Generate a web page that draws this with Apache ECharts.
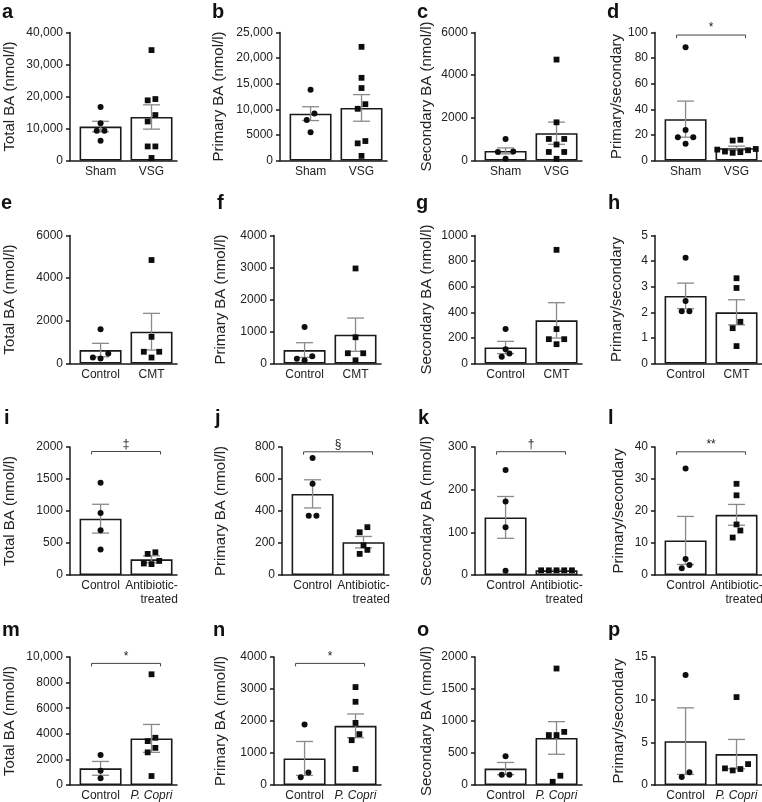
<!DOCTYPE html>
<html><head><meta charset="utf-8">
<script src="https://cdn.jsdelivr.net/npm/echarts@6/dist/echarts.min.js"></script>
<style>html,body{margin:0;padding:0;background:#fff}#chart{width:762px;height:802px}</style>
</head><body><div id="chart"></div>
<script>
// ---------------- DATA ----------------
const panelLetters = ['a','b','c','d','e','f','g','h','i','j','k','l','m','n','o','p'];
const yTitles = ['Total BA (nmol/l)', 'Primary BA (nmol/l)', 'Secondary BA (nmol/l)', 'Primary/secondary'];
const rowGroups = [['Sham', 'VSG'], ['Control', 'CMT'], ['Control', 'Antibiotic-treated'], ['Control', 'P. Copri']];
const yMax  = [40000, 25000, 6000, 100, 6000, 4000, 1000, 5, 2000, 800, 300, 40, 10000, 4000, 2000, 15];
const yStep = [10000, 5000, 2000, 20, 2000, 1000, 200, 1, 500, 200, 100, 10, 2000, 1000, 500, 5];

const a_mean = [10600, 13600], a_sem = [1650, 3800];
const a_g1 = [16700, 11650, 9300, 9300, 6200];
const a_g2 = [34500, 19200, 18800, 14200, 12200, 4400, 4400, 800];
const b_mean = [9150, 10270], b_sem = [1350, 2600];
const b_g1 = [13800, 9200, 7900, 5500];
const b_g2 = [22200, 16150, 14150, 11000, 10100, 3800, 3350, 900];
const c_mean = [450, 1280], c_sem = [140, 520];
const c_g1 = [1010, 420, 400, 80];
const c_g2 = [4730, 1790, 1010, 1010, 750, 400, 400, 80];
const d_mean = [32.3, 9.6], d_sem = [14.1, 1.6];
const d_g1 = [88.4, 23.8, 18.1, 18.1, 13];
const d_g2 = [16.2, 15.6, 9, 8.5, 8, 7, 6.5, 6];

const e_mean = [630, 1490], e_sem = [315, 860];
const e_g1 = [1600, 470, 280, 230];
const e_g2 = [4850, 1250, 550, 550, 280];
const f_mean = [420, 900], f_sem = [230, 520];
const f_g1 = [1140, 230, 150, 100];
const f_g2 = [2970, 820, 320, 320, 100];
const g_mean = [125, 337], g_sem = [48, 138];
const g_g1 = [269, 112, 78, 52];
const g_g2 = [888, 269, 190, 190, 151];
const h_mean = [2.64, 2.0], h_sem = [0.5, 0.49];
const h_g1 = [4.13, 2.44, 2.04, 2.04];
const h_g2 = [3.33, 2.95, 1.63, 1.38, 0.68];

const i_mean = [880, 245], i_sem = [225, 55];
const i_g1 = [1440, 970, 700, 400];
const i_g2 = [355, 330, 220, 180, 170];
const j_mean = [507, 205], j_sem = [88, 36];
const j_g1 = [731, 570, 370, 370];
const j_g2 = [299, 267, 186, 157, 132];
const k_mean = [135, 11], k_sem = [49, 0.3];
const k_g1 = [246, 172, 112, 10];
const k_g2 = [11, 11, 11, 11, 11];
const l_mean = [10.8, 18.8], l_sem = [7.5, 3.25];
const l_g1 = [33.3, 5.0, 3.1, 2.1];
const l_g2 = [28.5, 24.9, 15.8, 13.9, 11.7];

const m_mean = [1300, 3640], m_sem = [540, 1090];
const m_g1 = [2340, 1120, 520];
const m_g2 = [8650, 3690, 3430, 2900, 2550, 700];
const n_mean = [830, 1850], n_sem = [530, 370];
const n_g1 = [1890, 390, 240];
const n_g2 = [3060, 2600, 1940, 1590, 1400, 500];
const o_mean = [257, 735], o_sem = [95, 255];
const o_g1 = [450, 160, 160];
const o_g2 = [1820, 830, 780, 780, 145, 50];
const p_mean = [5.14, 3.62], p_sem = [3.9, 1.72];
const p_g1 = [12.9, 1.48, 0.93];
const p_g2 = [10.3, 2.45, 1.95, 1.87, 1.71];

const sigLabel  = ['', '', '', '*', '', '', '', '', '\u2021', '\u00a7', '\u2020', '**', '*', '*', '', ''];
const sigHeight = [0, 0, 0, 98, 0, 0, 0, 0, 1930, 770, 289, 38.5, 9500, 3800, 0, 0];

// ---------------- LAYOUT ----------------
const means = [a_mean,b_mean,c_mean,d_mean,e_mean,f_mean,g_mean,h_mean,i_mean,j_mean,k_mean,l_mean,m_mean,n_mean,o_mean,p_mean];
const sems  = [a_sem,b_sem,c_sem,d_sem,e_sem,f_sem,g_sem,h_sem,i_sem,j_sem,k_sem,l_sem,m_sem,n_sem,o_sem,p_sem];
const grp1  = [a_g1,b_g1,c_g1,d_g1,e_g1,f_g1,g_g1,h_g1,i_g1,j_g1,k_g1,l_g1,m_g1,n_g1,o_g1,p_g1];
const grp2  = [a_g2,b_g2,c_g2,d_g2,e_g2,f_g2,g_g2,h_g2,i_g2,j_g2,k_g2,l_g2,m_g2,n_g2,o_g2,p_g2];

const FONT = 'Liberation Sans, Arial, Helvetica, sans-serif';
const axisX0 = [70, 280, 475, 655, 70, 274, 475, 655, 70, 282, 475, 655, 70, 274, 475, 655];
const rowTop = [32.5, 235.5, 447, 657];
const PLOT_H = 128, PLOT_W = 107;
const nameGaps = [53, 54, 41, 31, 53, 46, 41, 31, 53, 54, 41, 29, 53, 46, 41, 29];
const letterLeft = [2, 212, 417, 607, 1, 217, 416, 608, 4, 215, 418, 608, 2, 213, 417, 608];
const letterTop = [2, 193, 408, 620];
const STEP = 7.7, ROW_PX = 7.5;

function slotsFor(values, maxV) {
  const idx = values.map((v, i) => i).sort((x, y) => values[x] - values[y]);
  const slots = new Array(values.length).fill(0);
  let k = 0;
  while (k < idx.length) {
    const startPx = values[idx[k]] / maxV * PLOT_H;
    const row = [idx[k]];
    let q = k + 1;
    while (q < idx.length && values[idx[q]] / maxV * PLOT_H - startPx <= ROW_PX) { row.push(idx[q]); q++; }
    const n = row.length;
    const order = [];
    if (n % 2 === 1) { order.push(0); for (let s = 1; order.length < n; s++) { order.push(-s); order.push(s); } }
    else { for (let s = 0.5; order.length < n; s += 1) { order.push(-s); order.push(s); } }
    row.forEach((id, t) => { slots[id] = order[t]; });
    k = q;
  }
  return slots;
}

function fmtY(v) {
  if (v >= 10000) return v.toLocaleString('en-US');
  return String(v);
}

const grids = [], xAxes = [], yAxes = [], series = [], titles = [];
for (let p = 0; p < 16; p++) {
  const r = Math.floor(p / 4), c = p % 4;
  grids.push({ left: axisX0[p], top: rowTop[r], width: PLOT_W, height: PLOT_H, containLabel: false, outerBoundsMode: 'none' });
  const names = rowGroups[r];
  xAxes.push({
    gridIndex: p, type: 'value', min: 0.4, max: 2.5,
    axisLine: { show: true, onZero: false, lineStyle: { color: '#1a1a1a', width: 1.5 } },
    axisTick: { show: false }, splitLine: { show: false },
    axisLabel: {
      customValues: [1, 2], margin: 4, fontSize: 12, color: '#222', fontFamily: FONT, lineHeight: 14,
      formatter: function (v) {
        if (v === 1) return names[0];
        if (v === 2) {
          if (r === 2) return '{a|Antibiotic-}\n{ra|treated}';
          if (r === 3) return '{it|' + names[1] + '}';
          return names[1];
        }
        return '';
      },
      rich: {
        a: { fontSize: 12, lineHeight: 14, color: '#222', fontFamily: FONT },
        ra: { fontSize: 12, lineHeight: 14, color: '#222', fontFamily: FONT, align: 'right' },
        it: { fontSize: 12, color: '#222', fontFamily: FONT, fontStyle: 'italic' }
      }
    }
  });
  yAxes.push({
    gridIndex: p, type: 'value', min: 0, max: yMax[p], interval: yStep[p],
    axisLine: { show: true, lineStyle: { color: '#1a1a1a', width: 1.5 } },
    axisTick: { show: true, length: 4, lineStyle: { color: '#1a1a1a', width: 1.5 } },
    splitLine: { show: false },
    axisLabel: { fontSize: 12, color: '#222', margin: 7, fontFamily: FONT, formatter: fmtY },
    name: yTitles[c], nameLocation: 'middle', nameGap: nameGaps[p],
    nameTextStyle: { fontSize: 15, color: '#222', fontFamily: FONT }
  });
  titles.push({ text: panelLetters[p], left: letterLeft[p], top: letterTop[r], padding: 0,
    textStyle: { fontSize: 20, fontWeight: 'bold', color: '#111', fontFamily: FONT } });

  series.push({
    type: 'bar', xAxisIndex: p, yAxisIndex: p, barWidth: 42, silent: true, z: 2,
    itemStyle: { color: '#ffffff', borderColor: '#1a1a1a', borderWidth: 1.6 },
    data: [[1, means[p][0]], [2, means[p][1]]]
  });
  series.push({
    type: 'custom', xAxisIndex: p, yAxisIndex: p, silent: true, z: 3,
    encode: { x: 0, y: 1 },
    data: [[1, means[p][0], sems[p][0]], [2, means[p][1], sems[p][1]]],
    renderItem: function (params, api) {
      const x = api.value(0), m = api.value(1), s = api.value(2);
      const t = api.coord([x, m + s]), b = api.coord([x, Math.max(0, m - s)]);
      const cap = 8.5, st = { stroke: '#8a8a8a', lineWidth: 1.3 };
      return { type: 'group', children: [
        { type: 'line', shape: { x1: t[0], y1: t[1], x2: b[0], y2: b[1] }, style: st },
        { type: 'line', shape: { x1: t[0] - cap, y1: t[1], x2: t[0] + cap, y2: t[1] }, style: st },
        { type: 'line', shape: { x1: b[0] - cap, y1: b[1], x2: b[0] + cap, y2: b[1] }, style: st }
      ] };
    }
  });
  const pts = [];
  const s1 = slotsFor(grp1[p], yMax[p]), s2 = slotsFor(grp2[p], yMax[p]);
  grp1[p].forEach((v, i) => pts.push([1, v, s1[i], 0]));
  grp2[p].forEach((v, i) => pts.push([2, v, s2[i], 1]));
  series.push({
    type: 'custom', xAxisIndex: p, yAxisIndex: p, silent: true, z: 4,
    encode: { x: 0, y: 1 }, data: pts,
    renderItem: function (params, api) {
      const pt = api.coord([api.value(0), api.value(1)]);
      const cx = pt[0] + api.value(2) * STEP, cy = pt[1];
      if (api.value(3) === 0) return { type: 'circle', shape: { cx: cx, cy: cy, r: 3 }, style: { fill: '#0d0d0d' } };
      return { type: 'rect', shape: { x: cx - 2.9, y: cy - 2.9, width: 5.8, height: 5.8 }, style: { fill: '#0d0d0d' } };
    }
  });
  if (sigLabel[p]) {
    series.push({
      type: 'custom', xAxisIndex: p, yAxisIndex: p, silent: true, z: 4,
      encode: { x: 0, y: 2 }, data: [[1, 2, sigHeight[p]]],
      renderItem: function (params, api) {
        const h = api.value(2);
        const a = api.coord([api.value(0), h]), b = api.coord([api.value(1), h]);
        const L = a[0] - 9, R = b[0] + 9, y = a[1];
        return { type: 'group', children: [
          { type: 'polyline', shape: { points: [[L, y + 3], [L, y], [R, y], [R, y + 3]] },
            style: { stroke: '#444', lineWidth: 1, fill: null } },
          { type: 'text', x: (L + R) / 2, y: y - 1,
            style: { text: sigLabel[p], align: 'center', verticalAlign: 'bottom', fill: '#222', fontSize: 12, fontFamily: FONT } }
        ] };
      }
    });
  }
}

const chart = echarts.init(document.getElementById('chart'), null, { renderer: 'canvas' });
chart.setOption({
  backgroundColor: '#ffffff', animation: false,
  title: titles, grid: grids, xAxis: xAxes, yAxis: yAxes, series: series
});
</script></body></html>
